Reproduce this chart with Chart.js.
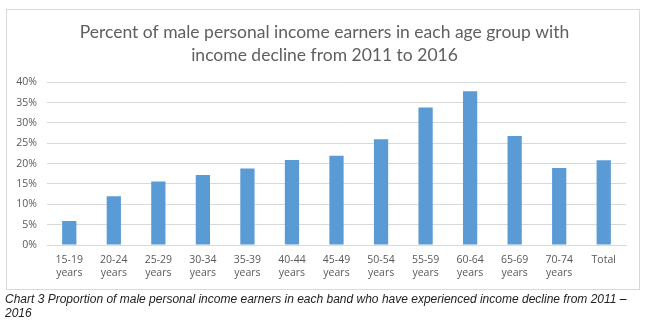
<!DOCTYPE html>
<html>
<head>
<meta charset="utf-8">
<script src="https://cdn.jsdelivr.net/npm/chart.js@4/dist/chart.umd.min.js"></script>
<style>
  html, body { margin: 0; padding: 0; background: #fff; }
  body { width: 649px; height: 327px; position: relative; overflow: hidden; }
  #wrap { position: absolute; left: 0; top: 0; width: 649px; height: 292px; }
  #frame { position: absolute; left: 6px; top: 9px; width: 634px; height: 281px; border: 1px solid #d9d9d9; box-sizing: border-box; pointer-events: none; }
  #caption { position: absolute; left: 5px; top: 292px; font-family: "Liberation Sans", Arial, sans-serif; font-style: italic; font-size: 12px; line-height: 14px; color: #222; white-space: nowrap; }
</style>
</head>
<body>
<div id="wrap"><canvas id="c" width="649" height="292"></canvas></div>
<div id="frame"></div>
<div id="caption">Chart 3 Proportion of male personal income earners in each band who have experienced income decline from 2011 –<br>2016</div>
<script>
const categories = [
  ["15-19", "years"], ["20-24", "years"], ["25-29", "years"], ["30-34", "years"],
  ["35-39", "years"], ["40-44", "years"], ["45-49", "years"], ["50-54", "years"],
  ["55-59", "years"], ["60-64", "years"], ["65-69", "years"], ["70-74", "years"], "Total"
];
const percentDecline = [5.9, 12.0, 15.6, 17.2, 18.8, 20.9, 21.9, 26.0, 33.8, 37.8, 26.8, 18.9, 20.8];
const titleLines = ["Percent of male personal income earners in each age group with", "income decline from 2011 to 2016"];

new Chart(document.getElementById('c'), {
  type: 'bar',
  data: {
    labels: categories,
    datasets: [{
      data: percentDecline,
      backgroundColor: '#5b9bd5',
      borderWidth: 0,
      categoryPercentage: 1.0,
      barPercentage: 0.32
    }]
  },
  options: {
    responsive: false,
    animation: false,
    layout: { padding: { left: 0, right: 0, top: 0, bottom: 0 } },
    plugins: {
      legend: { display: false },
      tooltip: { enabled: false },
      title: {
        display: true,
        text: titleLines,
        color: '#5f5f5f',
        font: { family: 'Lato, "Open Sans", sans-serif', size: 17.5, weight: 'normal', lineHeight: 1.32 },
        padding: { top: 21, bottom: 15 }
      }
    },
    scales: {
      x: {
        grid: { display: false, drawTicks: false },
        border: { display: true, color: '#d9d9d9' },
        ticks: {
          color: '#595959',
          font: { family: '"Open Sans", sans-serif', size: 10.5, lineHeight: 1.3 },
          padding: 8,
          maxRotation: 0,
          autoSkip: false
        },
        afterFit: s => { s.height = 47; }
      },
      y: {
        min: 0, max: 40,
        grid: { color: '#d9d9d9', drawTicks: false },
        border: { display: false },
        ticks: {
          stepSize: 5,
          color: '#595959',
          font: { family: '"Open Sans", sans-serif', size: 10.5 },
          padding: 10,
          callback: v => v + '%'
        },
        afterFit: s => { s.width = 47; }
      },
      yRight: {
        position: 'right',
        min: 0, max: 40,
        grid: { display: false, drawTicks: false },
        border: { display: false },
        ticks: { display: false },
        afterFit: s => { s.width = 23; }
      }
    }
  }
});
</script>
</body>
</html>
